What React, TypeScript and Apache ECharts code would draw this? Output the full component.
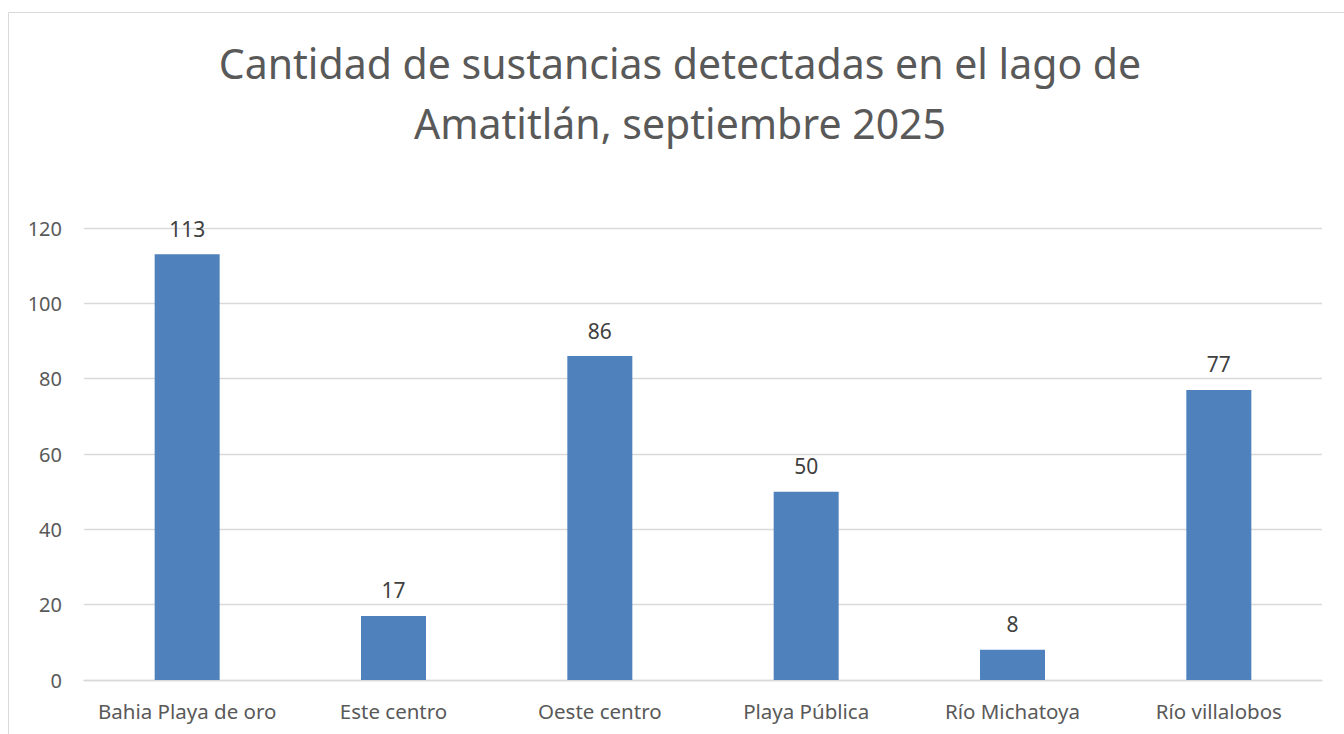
import React, { useEffect, useRef } from "react";
import * as echarts from "echarts";

const categories = [
  "Bahia Playa de oro",
  "Este centro",
  "Oeste centro",
  "Playa Pública",
  "Río Michatoya",
  "Río villalobos",
];
const values = [113, 17, 86, 50, 8, 77];
const titleLines = [
  "Cantidad de sustancias detectadas en el lago de",
  "Amatitlán, septiembre 2025",
];

const FONT = "'Noto Sans', 'Open Sans', sans-serif";
const TEXT = "#595959";

export default function App() {
  const ref = useRef<HTMLDivElement>(null);
  useEffect(() => {
    if (!ref.current) return;
    const chart = echarts.init(ref.current, undefined, { renderer: "svg" });
    chart.setOption({
      animation: false,
      backgroundColor: "#ffffff",
      textStyle: { fontFamily: FONT },
      graphic: [
        {
          type: "rect",
          shape: { x: 8.5, y: 12.5, width: 1400, height: 800 },
          style: { fill: "none", stroke: "#d9d9d9", lineWidth: 1 },
          silent: true,
        },
        {
          type: "text",
          x: 680,
          y: 33,
          style: {
            text: titleLines.join("\n"),
            fontFamily: FONT,
            fontSize: 41,
            lineHeight: 60,
            fill: TEXT,
            align: "center",
            verticalAlign: "top",
          },
        },
      ],
      grid: { left: 84, right: 22, top: 228, bottom: 54, containLabel: false },
      xAxis: {
        type: "category",
        data: categories,
        axisLine: { lineStyle: { color: "#d9d9d9", width: 1.3 } },
        axisTick: { show: false },
        axisLabel: {
          color: TEXT,
          fontSize: 20.5,
          fontFamily: FONT,
          margin: 20,
          interval: 0,
        },
      },
      yAxis: {
        type: "value",
        min: 0,
        max: 120,
        interval: 20,
        axisLine: { show: false },
        axisTick: { show: false },
        splitLine: { lineStyle: { color: "#d9d9d9", width: 1.3 } },
        axisLabel: { color: TEXT, fontSize: 20, fontFamily: FONT, margin: 22 },
      },
      series: [
        {
          type: "bar",
          data: values,
          barWidth: "31.5%",
          itemStyle: { color: "#4F81BD" },
          label: {
            show: true,
            position: "top",
            distance: 15,
            color: "#404040",
            fontSize: 21,
            fontFamily: FONT,
          },
        },
      ],
    });
    return () => chart.dispose();
  }, []);
  return (
    <div
      ref={ref}
      style={{ position: "fixed", left: 0, top: 0, width: 1344, height: 734 }}
    />
  );
}
